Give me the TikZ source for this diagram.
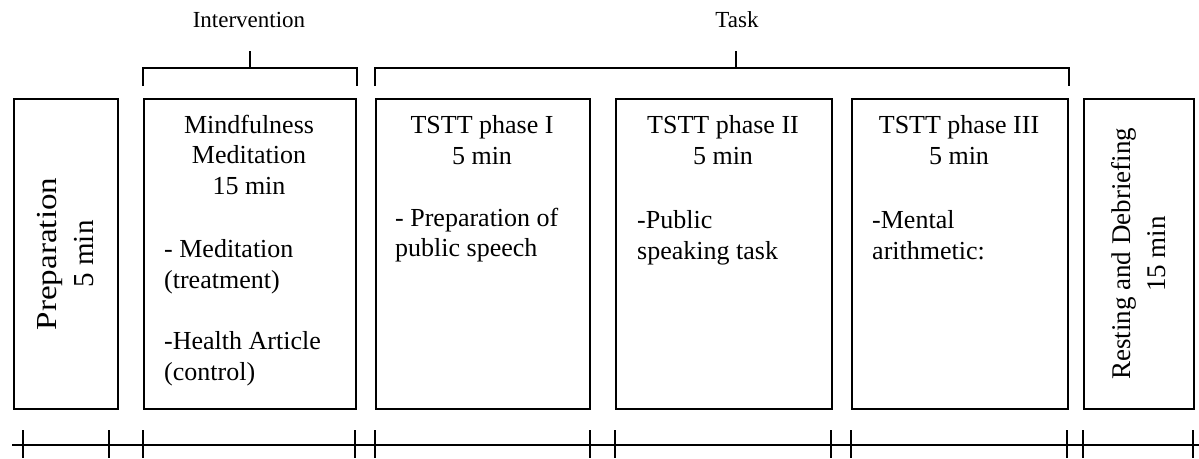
\documentclass[tikz,border=0pt]{standalone}
\usepackage{fontspec}
\usepackage{graphicx}
\setmainfont{Liberation Serif}
\usetikzlibrary{calc}

\begin{document}
\begin{tikzpicture}[x=1pt,y=-1pt,
  stage/.style={draw,line width=1.8pt,inner sep=0pt,anchor=north west,minimum height=310pt},
  title/.style={anchor=north,inner sep=0pt,align=center,font=\fontsize{26}{30.8}\selectfont},
  body/.style={anchor=north west,inner sep=0pt,align=left,font=\fontsize{26}{30.8}\selectfont},
  head/.style={anchor=base,inner sep=0pt,font=\fontsize{23}{27}\selectfont},
  brace/.style={line width=1.5pt},
  tick/.style={line width=1.6pt}]
\useasboundingbox (0,0) rectangle (1199,458);

\node[stage,minimum width=104pt] (prep) at (13,98) {};
\node[stage,minimum width=212pt] (mind) at (143,98) {};
\node[stage,minimum width=214pt] (tsttA) at (375,98) {};
\node[stage,minimum width=216pt] (tsttB) at (615,98) {};
\node[stage,minimum width=216pt] (tsttC) at (851,98) {};
\node[stage,minimum width=110pt] (rest) at (1083,98) {};

\node[rotate=90,inner sep=0pt,align=center,font=\fontsize{29}{37}\selectfont] (prepText) at (prep.center) {\scalebox{1.14}[1]{Preparation}\\5 min};
\node[rotate=90,inner sep=0pt,align=center,font=\fontsize{27}{35}\selectfont] (restText) at (rest.center) {Resting and Debriefing\\15 min};

\node[title] (mindTitle) at (249,114.5) {Mindfulness\\Meditation\\15 min};
\node[body] (mindBody) at (164,239) {- Meditation\\(treatment)\\[30.8pt]-Health Article\\(control)};

\node[title] (tsttATitle) at (482,115) {TSTT phase I\\5 min};
\node[body] (tsttABody) at (395,207.5) {- Preparation of\\public speech};

\node[title] (tsttBTitle) at (723,115) {TSTT phase II\\5 min};
\node[body] (tsttBBody) at (637,210) {-Public\\speaking task};

\node[title] (tsttCTitle) at (959,115) {TSTT phase III\\5 min};
\node[body] (tsttCBody) at (872,210) {-Mental\\arithmetic:};

\node[head] (interv) at (249,27) {Intervention};
\node[head] (task) at (737,27) {Task};

\draw[brace] ($(mind.north west)+(0,-12)$) -- ($(mind.north west)+(0,-30)$) -- ($(mind.north east)+(0,-30)$) -- ($(mind.north east)+(0,-12)$);
\draw[brace] ($(mind.north)+(0,-30)$) -- ++(0,-17);
\draw[brace] ($(tsttA.north west)+(0,-12)$) -- ($(tsttA.north west)+(0,-30)$) -- ($(tsttC.north east)+(0,-30)$) -- ($(tsttC.north east)+(0,-12)$);
\draw[brace] ($(tsttA.north west)!0.52!(tsttC.north east)+(0,-30)$) -- ++(0,-17);

\draw[tick] (12,445) -- (1199,445);
\foreach \x in {23,109,143,355,375,590,615,831,851,1067,1083,1193}
  \draw[tick] (\x,430) -- (\x,458);
\end{tikzpicture}
\end{document}
